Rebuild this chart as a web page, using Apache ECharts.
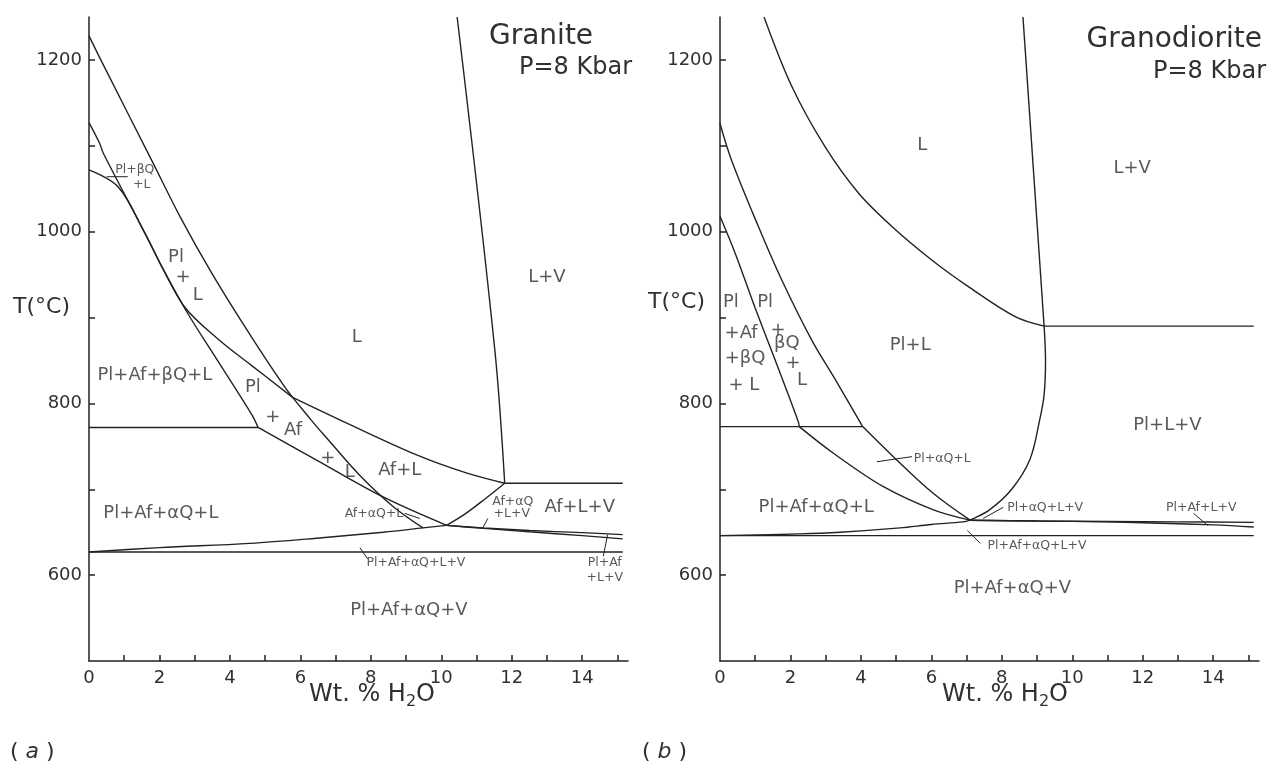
<!DOCTYPE html>
<html><head><meta charset="utf-8">
<script src="https://cdn.jsdelivr.net/npm/echarts@6/dist/echarts.min.js"></script>
<style>html,body{margin:0;padding:0;background:#fff}#c{width:1275px;height:770px}</style>
</head><body><div id="c"></div>
<script>
// ---------- axis ticks ----------
const xTickValues = [1,2,3,4,5,6,7,8,9,10,11,12,13,14,15];
const xLabelValues = [0,2,4,6,8,10,12,14];
const yTickValues = [600,700,800,900,1000,1100,1200];
const yLabelValues = [600,800,1000,1200];

// ---------- (a) Granite, P = 8 kbar : boundary curves [wt% H2O, T °C] ----------
const graPlLiquidus   = [[0,1228],[0.36,1198],[1.78,1083],[2.63,1014],[3.48,952],[4.43,889],[5.56,819],[6.32,780],[6.74,760],[7.69,716],[8.63,680],[9.48,655]];
const graAfUpper      = [[0,1072],[0.83,1052],[1.59,998],[2.07,959],[2.72,912],[3.66,875],[4.62,844],[5.78,807]];
const graAfLiquidus   = [[5.78,807],[7.06,782],[9.3,740],[10.71,719],[11.8,707]];
const graQzUpper      = [[0,1127],[0.3,1103],[0.41,1091],[1.59,998],[2.07,959],[2.8,905],[3.57,855],[4.62,787],[4.8,772]];
const graQzLower      = [[4.8,772],[6.46,734],[8.35,691],[10.15,658]];
const graQzTransition = [[0,772],[4.8,772]];
const graSolidus      = [[0,627],[2,632],[4.57,637],[6.46,643],[8.35,650],[9.48,655],[10.15,658]];
const graRightUpper   = [[10.15,658],[11.2,655],[12.5,652],[14,649.5],[15.15,647.2]];
const graRightLower   = [[10.15,658],[11.2,654.5],[12.5,650.5],[14,646],[15.15,642.2]];
const graBase         = [[0,627],[15.15,627]];
const graVapSolidus   = [[10.15,658],[10.7,672],[11.25,689],[11.8,707]];
const graLVBoundary   = [[10.45,1250],[11.52,862],[11.8,707]];
const graLVFlat       = [[11.8,707],[15.15,707]];
const graLeaders = [
  [[0.5,1064],[1.1,1064]],
  [[8.96,672],[9.39,666]],
  [[11.32,666],[11.18,655]],
  [[7.69,632],[7.91,619]],
  [[14.6,622],[14.72,647]]
];
// [text, wt% H2O, T, size class]
const graLabels = [
  ['Pl+βQ',1.3,1072,'s'],['+L',1.5,1055,'s'],
  ['Pl',2.47,970,'m'],['+',2.67,947,'m'],['L',3.09,926,'m'],
  ['Pl+Af+βQ+L',1.87,833,'m'],
  ['Pl',4.65,819,'m'],['+',5.22,784,'m'],['Af',5.79,769,'m'],
  ['+',6.78,736,'m'],['L',7.4,720,'m'],
  ['Af+L',8.82,722,'m'],
  ['Af+αQ+L',8.09,672,'s'],
  ['Af+αQ',12.03,685,'s'],['+L+V',12.0,672,'s'],
  ['Af+L+V',13.93,679,'m'],
  ['Pl+Af+αQ+L+V',9.28,615,'s'],
  ['Pl+Af',14.64,615,'s'],['+L+V',14.64,597,'s'],
  ['Pl+Af+αQ+V',9.08,559,'m'],
  ['Pl+Af+αQ+L',2.04,672,'m'],
  ['L',7.6,877,'m'],
  ['L+V',13.0,947,'m']
];

// ---------- (b) Granodiorite, P = 8 kbar ----------
const grdPlLiquidus   = [[1.25,1250],[2.04,1169],[2.98,1099],[3.93,1045],[4.88,1006],[6.01,967],[7.05,936],[8.38,901],[9.2,890]];
const grdLVBoundary   = [[8.6,1250],[9.2,890]];
const grdLVFlat       = [[9.2,890],[15.15,890]];
const grdVapSolidus   = [[9.2,890],[9.24,850],[9.2,810],[9.07,780],[8.8,735],[8.28,700],[7.65,676],[7.1,664]];
const grdQzUpper      = [[0,1126],[0.33,1083],[1.09,1006],[1.75,944],[2.6,874],[3.27,828],[4.05,773]];
const grdQzLower      = [[4.05,773],[4.92,738],[6.06,695],[7.1,664]];
const grdAfUpper      = [[0,1018],[0.43,975],[0.99,912],[1.56,851],[2.22,779],[2.25,773]];
const grdAfLower      = [[2.25,773],[3.22,742],[4.64,703],[6.06,676],[7.1,664]];
const grdQzTransition = [[0,773],[4.05,773]];
const grdSolidus      = [[0,646],[2.27,648],[3.41,650],[5.11,655],[6.0,659],[6.9,662],[7.1,664]];
const grdBase         = [[0,646],[15.15,646]];
const grdRightUpper   = [[7.1,664],[9,663],[11,662.5],[13,662],[15.15,661.5]];
const grdRightLower   = [[7.1,664],[9,663],[11,662],[12.5,660.5],[14,658.5],[15.15,656]];
const grdLeaders = [
  [[4.45,732],[5.45,738]],
  [[7.47,666],[8.04,679]],
  [[7.02,652],[7.39,637]],
  [[13.44,672],[13.84,658]]
];
const grdLabels = [
  ['L',5.74,1101,'m'],['L+V',11.7,1074,'m'],
  ['Pl',0.31,918,'m'],['Pl',1.28,918,'m'],
  ['+Af',0.6,882,'m'],['+βQ',0.71,853,'m'],['+ L',0.68,821,'m'],
  ['+',1.65,885,'m'],['βQ',1.9,870,'m'],['+',2.07,847,'m'],['L',2.33,827,'m'],
  ['Pl+L',5.4,868,'m'],
  ['Pl+L+V',12.7,775,'m'],
  ['Pl+αQ+L',6.31,736,'s'],
  ['Pl+αQ+L+V',9.23,679,'s'],
  ['Pl+Af+αQ+L+V',9.0,634,'s'],
  ['Pl+Af+L+V',13.66,679,'s'],
  ['Pl+Af+αQ+L',2.73,679,'m'],
  ['Pl+Af+αQ+V',8.3,585,'m']
];

// ---------- rendering ----------
const FONT = 'DejaVu Sans';
const INK = '#222222';
const TXT = '#303030';
const SIZES = {s:12.5, m:18};

const chart = echarts.init(document.getElementById('c'), null, {renderer:'canvas'});

function xAxis(g){
  return {gridIndex:g, type:'value', min:0, max:15.3,
    axisLine:{show:true, onZero:false, lineStyle:{color:INK, width:1.5}},
    axisTick:{show:true, inside:true, length:6, customValues:xTickValues, lineStyle:{color:INK, width:1.5}},
    axisLabel:{show:true, customValues:xLabelValues, margin:8, fontSize:18, color:TXT, fontFamily:FONT, formatter:v=>String(v)},
    splitLine:{show:false}};
}
function yAxis(g){
  return {gridIndex:g, type:'value', min:500, max:1250,
    axisLine:{show:true, onZero:false, lineStyle:{color:INK, width:1.5}},
    axisTick:{show:true, inside:true, length:6, customValues:yTickValues, lineStyle:{color:INK, width:1.5}},
    axisLabel:{show:true, customValues:yLabelValues, margin:7, fontSize:18, color:TXT, fontFamily:FONT, formatter:v=>String(v)},
    splitLine:{show:false}};
}
function curve(g, data, smooth){
  return {type:'line', xAxisIndex:g, yAxisIndex:g, data:data, smooth:smooth?0.35:false,
    showSymbol:false, symbol:'none', silent:true, lineStyle:{color:INK, width:1.4}, z:2};
}
function labelSeries(g, labels){
  return {type:'scatter', xAxisIndex:g, yAxisIndex:g, symbolSize:1, silent:true, z:5,
    itemStyle:{color:'rgba(0,0,0,0)'},
    data:labels.map(l=>({value:[l[1],l[2]], label:{formatter:l[0], fontSize:SIZES[l[3]]}})),
    label:{show:true, position:'inside', align:'center', verticalAlign:'middle', color:TXT, fontFamily:FONT}};
}

const series = [
  curve(0, graPlLiquidus, true), curve(0, graAfUpper, true), curve(0, graAfLiquidus, true),
  curve(0, graQzUpper, true), curve(0, graQzLower, true), curve(0, graQzTransition, false),
  curve(0, graSolidus, true), curve(0, graRightUpper, true), curve(0, graRightLower, true),
  curve(0, graBase, false), curve(0, graVapSolidus, true), curve(0, graLVBoundary, true), curve(0, graLVFlat, false),
  curve(1, grdPlLiquidus, true), curve(1, grdLVBoundary, false), curve(1, grdLVFlat, false),
  curve(1, grdVapSolidus, true), curve(1, grdQzUpper, true), curve(1, grdQzLower, true),
  curve(1, grdAfUpper, true), curve(1, grdAfLower, true), curve(1, grdQzTransition, false),
  curve(1, grdSolidus, true), curve(1, grdBase, false), curve(1, grdRightUpper, true), curve(1, grdRightLower, true)
];
graLeaders.forEach(d=>series.push(Object.assign(curve(0,d,false),{lineStyle:{color:INK,width:1}})));
grdLeaders.forEach(d=>series.push(Object.assign(curve(1,d,false),{lineStyle:{color:INK,width:1}})));
series.push(labelSeries(0, graLabels));
series.push(labelSeries(1, grdLabels));

function txt(x, y, text, size, align, extra){
  return Object.assign({type:'text', x:x, y:y, silent:true, z:10,
    style:Object.assign({text:text, fontSize:size, fontFamily:FONT, fill:TXT, align:align||'left', verticalAlign:'middle'}, extra||{})});
}
const sub = {rich:{s:{fontSize:16, fontFamily:FONT, fill:TXT, padding:[14,0,0,0]}, n:{fontSize:24, fontFamily:FONT, fill:TXT}}};
const ital = {rich:{i:{fontSize:22, fontFamily:FONT, fontStyle:'italic', fill:TXT}}};

chart.setOption({
  animation:false,
  backgroundColor:'#ffffff',
  grid:[
    {left:89, top:17, width:539, height:644, containLabel:false, outerBoundsMode:'none'},
    {left:720, top:17, width:539, height:644, containLabel:false, outerBoundsMode:'none'}
  ],
  xAxis:[xAxis(0), xAxis(1)],
  yAxis:[yAxis(0), yAxis(1)],
  series:series,
  graphic:[
    txt(489, 37, 'Granite', 28, 'left'),
    txt(632, 68, 'P=8 Kbar', 24, 'right'),
    txt(1262, 40, 'Granodiorite', 28, 'right'),
    txt(1266, 72, 'P=8 Kbar', 24, 'right'),
    txt(70, 307, 'T(°C)', 22, 'right'),
    txt(705, 302, 'T(°C)', 22, 'right'),
    txt(372, 695, '{n|Wt. % H}{s|2}{n|O}', 24, 'center', sub),
    txt(1005, 695, '{n|Wt. % H}{s|2}{n|O}', 24, 'center', sub),
    txt(10, 752, '( {i|a} )', 22, 'left', ital),
    txt(642, 752, '( {i|b} )', 22, 'left', ital)
  ]
});
</script></body></html>
